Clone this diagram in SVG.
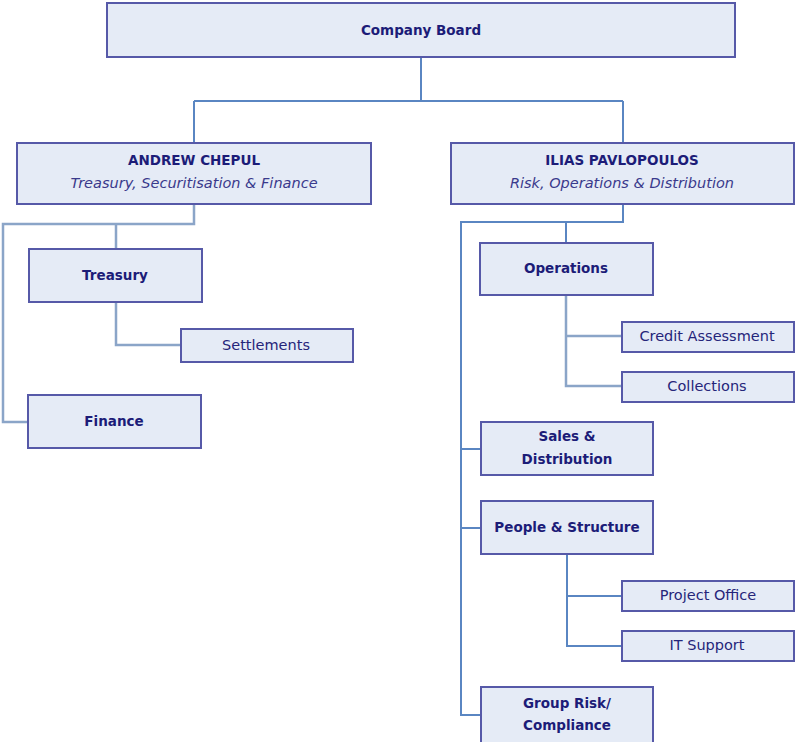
<svg xmlns="http://www.w3.org/2000/svg" width="795" height="742" viewBox="0 0 795 742">
<style>
.box{fill:#e5ebf6;stroke:#5659a8;stroke-width:2}
.b{font-family:"DejaVu Sans",sans-serif;font-weight:bold;font-size:13.5px;fill:#1c1c78;text-anchor:middle}
.r{font-family:"DejaVu Sans",sans-serif;font-size:14.5px;fill:#25257a;text-anchor:middle}
.i{font-family:"DejaVu Sans",sans-serif;font-style:italic;font-size:14.5px;fill:#3a3a8c;text-anchor:middle}
.c{fill:none;stroke:#5a86c2;stroke-width:2}
.c2{fill:none;stroke:#8ba5c8;stroke-width:2.5}
</style>
<rect width="795" height="742" fill="#ffffff"/>
<g id="connectors">
<path class="c" d="M421 57V101M194 101H623M194 101V143M623 101V143"/>
<path class="c2" d="M194 204V224H3V422H28M116 224V249"/>
<path class="c2" d="M116 302V345H181"/>
<path class="c" d="M623 204V222H461V715H481M566 222V243M461 449H481M461 528H481"/>
<path class="c2" d="M566 295V386H622M566 336H622"/>
<path class="c" d="M567 554V646H622M567 596H622"/>
</g>
<g id="board"><rect class="box" x="107" y="3" width="628" height="54"/><text class="b" x="421" y="35">Company Board</text></g>
<g id="andrew"><rect class="box" x="17" y="143" width="354" height="61"/><text class="b" x="194" y="165" font-size="14">ANDREW CHEPUL</text><text class="i" x="194" y="188">Treasury, Securitisation &amp; Finance</text></g>
<g id="ilias"><rect class="box" x="451" y="143" width="343" height="61"/><text class="b" x="622" y="165" font-size="14">ILIAS PAVLOPOULOS</text><text class="i" x="622" y="188">Risk, Operations &amp; Distribution</text></g>
<g id="treasury"><rect class="box" x="29" y="249" width="173" height="53"/><text class="b" x="115" y="280">Treasury</text></g>
<g id="settlements"><rect class="box" x="181" y="329" width="172" height="33"/><text class="r" x="266" y="350">Settlements</text></g>
<g id="finance"><rect class="box" x="28" y="395" width="173" height="53"/><text class="b" x="114" y="426">Finance</text></g>
<g id="operations"><rect class="box" x="480" y="243" width="173" height="52"/><text class="b" x="566" y="273">Operations</text></g>
<g id="credit"><rect class="box" x="622" y="322" width="172" height="30"/><text class="r" x="707" y="341">Credit Assessment</text></g>
<g id="collections"><rect class="box" x="622" y="372" width="172" height="30"/><text class="r" x="707" y="391">Collections</text></g>
<g id="sales"><rect class="box" x="481" y="422" width="172" height="53"/><text class="b" x="567" y="441">Sales &amp;</text><text class="b" x="567" y="464">Distribution</text></g>
<g id="people"><rect class="box" x="481" y="501" width="172" height="53"/><text class="b" x="567" y="532">People &amp; Structure</text></g>
<g id="project"><rect class="box" x="622" y="581" width="172" height="30"/><text class="r" x="708" y="600">Project Office</text></g>
<g id="itsupport"><rect class="box" x="622" y="631" width="172" height="30"/><text class="r" x="707" y="650">IT Support</text></g>
<g id="grouprisk"><rect class="box" x="481" y="687" width="172" height="56"/><text class="b" x="567" y="708">Group Risk/</text><text class="b" x="567" y="730">Compliance</text></g>
</svg>
